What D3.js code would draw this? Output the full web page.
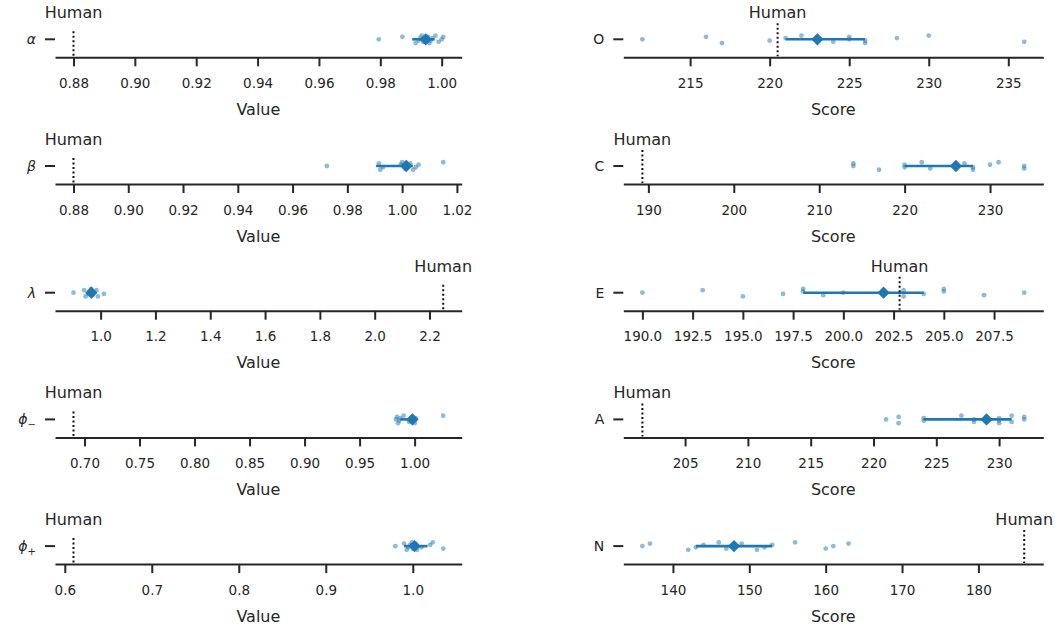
<!DOCTYPE html>
<html><head><meta charset="utf-8">
<script src="https://cdn.jsdelivr.net/npm/d3@7"></script>
<style>
body{margin:0;background:#fff}
text{font-family:"DejaVu Sans",sans-serif;fill:#262626}
</style>
</head><body>
<svg id="chart" width="1055" height="626"></svg>
<script>
// ---------------- DATA ----------------
// Left column: model parameters
const leftNames = ["α", "β", "λ", "ϕ", "ϕ"];
const leftSubs = ["", "", "", "−", "+"];
const alphaVals = [0.9795, 0.9872, 0.9915, 0.9925, 0.993, 0.9935, 0.994, 0.995, 0.9955, 0.996, 0.9965, 0.997, 0.998, 0.999, 1.0, 1.0005];
const betaVals = [0.9725, 0.9915, 0.992, 0.993, 0.9995, 1.0, 1.001, 1.002, 1.003, 1.004, 1.005, 1.006, 1.015];
const lambdaVals = [0.901, 0.94, 0.945, 0.955, 0.96, 0.965, 0.97, 0.975, 0.985, 0.99, 1.012];
const phiMinusVals = [0.983, 0.984, 0.985, 0.986, 0.987, 0.99, 0.995, 0.997, 0.998, 1.0, 1.0, 1.001, 1.026];
const phiPlusVals = [0.98, 0.99, 0.993, 0.995, 0.997, 0.999, 1.0, 1.001, 1.003, 1.005, 1.01, 1.02, 1.023, 1.035];
const leftHuman = [0.88, 0.88, 2.25, 0.69, 0.61];
const leftCenter = [0.9948, 1.0015, 0.966, 0.998, 1.002];
const leftLow = [0.9904, 0.9905, 0.955, 0.987, 0.99];
const leftHigh = [0.9977, 1.0039, 0.978, 1.0, 1.017];
const alphaTicks = [0.88, 0.90, 0.92, 0.94, 0.96, 0.98, 1.00];
const betaTicks = [0.88, 0.90, 0.92, 0.94, 0.96, 0.98, 1.00, 1.02];
const lambdaTicks = [1.0, 1.2, 1.4, 1.6, 1.8, 2.0, 2.2];
const phiMinusTicks = [0.70, 0.75, 0.80, 0.85, 0.90, 0.95, 1.00];
const phiPlusTicks = [0.6, 0.7, 0.8, 0.9, 1.0];
const leftTickFormats = [".2f", ".2f", ".1f", ".2f", ".1f"];
const leftAxisLabel = "Value";

// Right column: personality traits
const rightNames = ["O", "C", "E", "A", "N"];
const oVals = [212, 216, 217, 220, 221, 222, 224, 225, 225, 226, 226, 228, 230, 236];
const cVals = [214, 214, 217, 220, 220, 222, 223, 226, 227, 228, 228, 230, 231, 234, 234];
const eVals = [190, 193, 195, 197, 198, 198, 199, 200, 203, 203, 204, 205, 205, 207, 209];
const aVals = [221, 222, 222, 224, 224, 227, 228, 228, 229, 230, 230, 230, 231, 231, 232, 232];
const nVals = [136, 137, 142, 143, 144, 146, 147, 148, 149, 151, 152, 153, 156, 160, 161, 163];
const rightHuman = [220.5, 189.3, 202.8, 201.6, 186];
const rightCenter = [223, 226, 202, 229, 148];
const rightLow = [221, 220, 198, 224, 143];
const rightHigh = [226, 228, 204, 231, 153];
const oTicks = [215, 220, 225, 230, 235];
const cTicks = [190, 200, 210, 220, 230];
const eTicks = [190.0, 192.5, 195.0, 197.5, 200.0, 202.5, 205.0, 207.5];
const aTicks = [205, 210, 215, 220, 225, 230];
const nTicks = [140, 150, 160, 170, 180];
const rightTickFormats = ["d", "d", ".1f", "d", "d"];
const rightAxisLabel = "Score";
const humanLabel = "Human";

// ---------------- LAYOUT ----------------
const svg = d3.select("#chart");
svg.append("rect").attr("width", 1055).attr("height", 626).attr("fill", "#fff");
const axisTop = 57.3, rowStep = 126.7;
const cols = [
  {x0: 55, x1: 461.7, vlineUp: 8},
  {x0: 623.3, x1: 1043.3, vlineUp: 16}
];
const blue = "#1f77b4";
const ink = "#262626";
const jitter = i => (((i * 5 + 3) % 7) - 3) * 1.25;

function drawPanel(col, row, spec) {
  const c = cols[col];
  const axisY = axisTop + row * rowStep;
  const cy = axisY - 18;
  const ext = d3.extent(spec.values.concat([spec.human]));
  const pad = (ext[1] - ext[0]) * 0.05;
  const x = d3.scaleLinear().domain([ext[0] - pad, ext[1] + pad]).range([c.x0, c.x1]);
  const g = svg.append("g");

  // x axis
  const ax = g.append("g").attr("transform", `translate(0,${axisY})`)
    .call(d3.axisBottom(x).tickValues(spec.ticks).tickFormat(d3.format(spec.fmt)).tickSizeOuter(0).tickSizeInner(9).tickPadding(12));
  ax.select(".domain").attr("stroke", ink).attr("stroke-width", 2);
  ax.selectAll(".tick line").attr("stroke", ink).attr("stroke-width", 2);
  ax.selectAll(".tick text").attr("font-size", "13.5px").attr("fill", ink)
    .attr("font-family", "DejaVu Sans, sans-serif");
  g.append("text").attr("x", (c.x0 + c.x1) / 2).attr("y", axisY + 57.5)
    .attr("text-anchor", "middle").attr("font-size", "16px").text(spec.axisLabel);

  // category tick and label
  g.append("line").attr("x1", c.x0 - 10).attr("x2", c.x0).attr("y1", cy).attr("y2", cy)
    .attr("stroke", ink).attr("stroke-width", 2);
  const lab = g.append("text").attr("x", c.x0 - 19).attr("y", cy + 5)
    .attr("text-anchor", "end").attr("font-size", "14px");
  if (spec.italic) lab.attr("font-style", "italic");
  lab.append("tspan").text(spec.name);
  if (spec.sub) lab.append("tspan").attr("dy", 4).attr("font-size", "10px").attr("font-style", "normal").text(spec.sub);

  // strip points
  g.selectAll("circle.pt").data(spec.values).join("circle").attr("class", "pt")
    .attr("cx", d => x(d)).attr("cy", (d, i) => cy + jitter(i)).attr("r", 2.4)
    .attr("fill", blue).attr("fill-opacity", 0.5);

  // error bar + diamond
  g.append("line").attr("x1", x(spec.low)).attr("x2", x(spec.high)).attr("y1", cy).attr("y2", cy)
    .attr("stroke", blue).attr("stroke-width", 2.6);
  g.append("path").attr("d", d3.symbol().type(d3.symbolSquare).size(76)())
    .attr("transform", `translate(${x(spec.center)},${cy}) rotate(45)`).attr("fill", blue);

  // human reference
  g.append("line").attr("x1", x(spec.human)).attr("x2", x(spec.human))
    .attr("y1", cy - c.vlineUp).attr("y2", axisY - 1)
    .attr("stroke", "#111").attr("stroke-width", 2).attr("stroke-dasharray", "2,2.5");
  g.append("text").attr("x", x(spec.human)).attr("y", axisY - 39)
    .attr("text-anchor", "middle").attr("font-size", "16px").text(humanLabel);
}

const leftVals = [alphaVals, betaVals, lambdaVals, phiMinusVals, phiPlusVals];
const leftTicks = [alphaTicks, betaTicks, lambdaTicks, phiMinusTicks, phiPlusTicks];
leftVals.forEach((v, i) => drawPanel(0, i, {
  values: v, human: leftHuman[i], center: leftCenter[i], low: leftLow[i], high: leftHigh[i],
  ticks: leftTicks[i], fmt: leftTickFormats[i], axisLabel: leftAxisLabel,
  name: leftNames[i], sub: leftSubs[i], italic: true
}));
const rightVals = [oVals, cVals, eVals, aVals, nVals];
const rightTicks = [oTicks, cTicks, eTicks, aTicks, nTicks];
rightVals.forEach((v, i) => drawPanel(1, i, {
  values: v, human: rightHuman[i], center: rightCenter[i], low: rightLow[i], high: rightHigh[i],
  ticks: rightTicks[i], fmt: rightTickFormats[i], axisLabel: rightAxisLabel,
  name: rightNames[i], sub: "", italic: false
}));
</script>
</body></html>
